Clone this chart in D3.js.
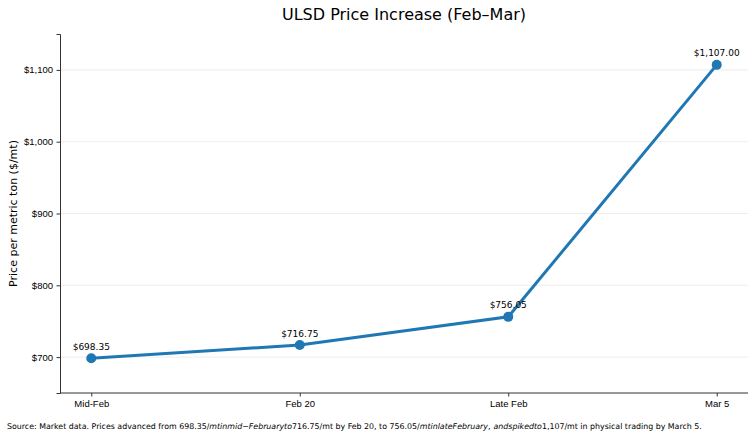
<!DOCTYPE html>
<html lang="en">
<head>
<meta charset="utf-8">
<script src="https://d3js.org/d3.v7.min.js"></script>
<style>
  body { margin: 0; background: #fff; }
  svg { font-family: "DejaVu Sans", sans-serif; }
  .grid line { stroke: #e8e8e8; stroke-width: 0.8; }
  .axis path, .axis line { stroke: #333; }
  .axis text { fill: #000; font-size: 9.5px; }
</style>
</head>
<body>
<script>
// data
var periods = ["Mid-Feb", "Feb 20", "Late Feb", "Mar 5"];
var prices = [698.35, 716.75, 756.05, 1107.00];
var yTicks = [700, 800, 900, 1000, 1100];

var w = 755, h = 441;
var margin = {left: 60, right: 7, top: 34, bottom: 48};

var svg = d3.select("body").append("svg")
  .attr("width", w).attr("height", h);

var xScale = d3.scalePoint()
  .domain(periods)
  .range([margin.left, w - margin.right])
  .padding(0.15);

var yScale = d3.scaleLinear()
  .domain([650, 1150])
  .range([h - margin.bottom, margin.top]);

var fmtMoney = d3.format("$,.0f");

//gridlines
svg.append("g").attr("class", "grid")
  .selectAll("line").data(yTicks).enter().append("line")
  .attr("x1", margin.left).attr("x2", w - margin.right)
  .attr("y1", function(d) { return yScale(d); })
  .attr("y2", function(d) { return yScale(d); });

//axes
var xAxis = d3.axisBottom(xScale).tickSizeOuter(0).tickSize(3.5).tickPadding(3.5);
var yAxis = d3.axisLeft(yScale).tickValues(yTicks).tickFormat(fmtMoney)
  .tickSizeOuter(0).tickSize(3.5).tickPadding(3.5);

var gx = svg.append("g").attr("class", "axis")
  .attr("transform", "translate(0," + (h - margin.bottom) + ")")
  .call(xAxis);
gx.select(".domain").attr("d", "M" + margin.left + ",0H" + (w - margin.right));

svg.append("g").attr("class", "axis")
  .attr("transform", "translate(" + margin.left + ",0)")
  .call(yAxis);

//line
var line = d3.line()
  .x(function(d, i) { return xScale(periods[i]); })
  .y(function(d) { return yScale(d); });

svg.append("path")
  .datum(prices)
  .attr("fill", "none")
  .attr("stroke", "#1f77b4")
  .attr("stroke-width", 3)
  .attr("d", line);

svg.selectAll(".pt").data(prices).enter().append("circle")
  .attr("class", "pt")
  .attr("cx", function(d, i) { return xScale(periods[i]); })
  .attr("cy", function(d) { return yScale(d); })
  .attr("r", 5)
  .attr("fill", "#1f77b4");

svg.selectAll(".lbl").data(prices).enter().append("text")
  .attr("class", "lbl")
  .attr("x", function(d, i) { return xScale(periods[i]); })
  .attr("y", function(d) { return yScale(d) - 8.5; })
  .attr("text-anchor", "middle")
  .style("font-size", "9px")
  .text(function(d) { return d3.format("$,.2f")(d); });

//title + y label
svg.append("text")
  .attr("x", (margin.left + w - margin.right) / 2)
  .attr("y", 20)
  .attr("text-anchor", "middle")
  .style("font-size", "16px")
  .text("ULSD Price Increase (Feb\u2013Mar)");

svg.append("text")
  .attr("transform", "translate(17," + ((margin.top + h - margin.bottom) / 2) + ") rotate(-90)")
  .attr("text-anchor", "middle")
  .style("font-size", "11px")
  .text("Price per metric ton ($/mt)");

// source note (rendered with mathtext in original)
var parts = [
  ["Source: Market data. Prices advanced from 698.35/", false],
  ["mtinmid\u2212Februaryto", true],
  ["716.75/mt by Feb 20, to 756.05/", false],
  ["mtinlateFebruary", true],
  [",", false],
  ["andspikedto", true],
  ["1,107/mt in physical trading by March 5.", false]
];
var note = svg.append("text")
  .attr("x", 7).attr("y", 429)
  .style("font-size", "9px");
note.selectAll("tspan").data(parts).enter().append("tspan")
  .style("font-style", function(d) { return d[1] ? "italic" : "normal"; })
  .attr("dx", function(d, i) { return i == 5 ? 3 : 0; })
  .text(function(d) { return d[0]; });
// shrink note so it ends where the reference one ends
var noteLen = note.node().getComputedTextLength();
var noteTarget = 692;
if (noteLen > noteTarget) note.style("font-size", (9 * noteTarget / noteLen).toFixed(2) + "px");
</script>
</body>
</html>
